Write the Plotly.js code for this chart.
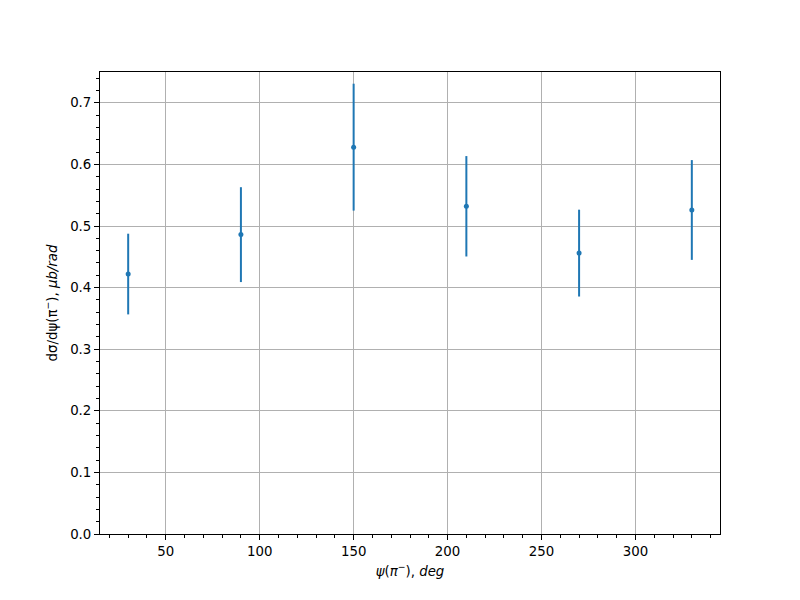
<!DOCTYPE html>
<html>
<head>
<meta charset="utf-8">
<script src="https://cdn.plot.ly/plotly-3.0.1.min.js"></script>
<style>html,body{margin:0;padding:0;background:#fff;}#chart{width:800px;height:600px;}</style>
</head>
<body>
<div id="chart"></div>
<script>
const psiDeg = [30, 90, 150, 210, 270, 330];
const dSigma = [0.422, 0.486, 0.628, 0.532, 0.456, 0.526];
const dSigmaErr = [0.0655, 0.077, 0.103, 0.0815, 0.0705, 0.081];

const font = {family: 'DejaVu Sans, sans-serif', size: 13.33, color: '#000'};

const trace = {
  x: psiDeg,
  y: dSigma,
  type: 'scatter',
  mode: 'markers',
  marker: {color: '#1f77b4', size: 5},
  error_y: {type: 'data', array: dSigmaErr, visible: true, width: 0, thickness: 2, color: '#1f77b4'},
  showlegend: false,
  hoverinfo: 'skip'
};

const axisCommon = {
  showline: true, linecolor: '#000', linewidth: 1, mirror: true,
  ticks: 'outside', ticklen: 5, tickwidth: 1, tickcolor: '#000',
  showgrid: true, gridcolor: '#b0b0b0', gridwidth: 1,
  zeroline: false, tickfont: font
};

const layout = {
  width: 800, height: 600,
  margin: {l: 100, r: 80, t: 72, b: 66},
  paper_bgcolor: '#fff', plot_bgcolor: '#fff',
  font: font,
  xaxis: Object.assign({}, axisCommon, {
    range: [15, 345], tickvals: [50, 100, 150, 200, 250, 300],
    minor: {dtick: 10, tick0: 0, ticks: 'outside', ticklen: 3, tickcolor: '#000', tickwidth: 1, showgrid: false},
    title: {text: '<i>ψ</i>(<i>π</i><sup>−</sup>), <i>deg</i>', font: font, standoff: 8}
  }),
  yaxis: Object.assign({}, axisCommon, {
    range: [0, 0.75], dtick: 0.1, tick0: 0, tickformat: '.1f',
    minor: {dtick: 0.02, tick0: 0, ticks: 'outside', ticklen: 3, tickcolor: '#000', tickwidth: 1, showgrid: false},
    title: {text: 'dσ/dψ(π<sup>−</sup>), <i>μb/rad</i>', font: font, standoff: 9}
  })
};

Plotly.newPlot('chart', [trace], layout, {displayModeBar: false, staticPlot: true});
</script>
</body>
</html>
